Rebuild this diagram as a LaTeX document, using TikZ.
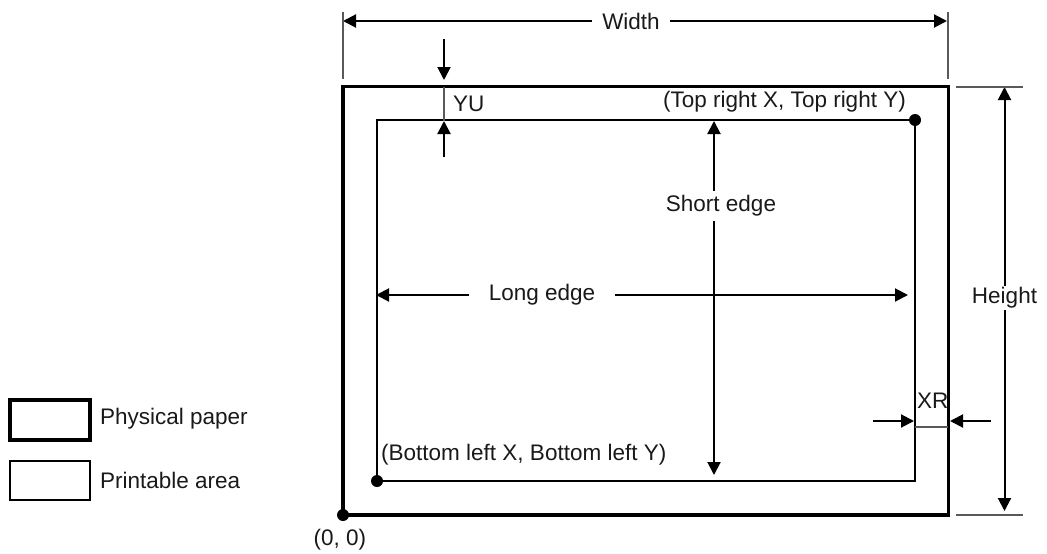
\documentclass[tikz,border=0pt]{standalone}
\usepackage{fontspec}
\setmainfont{Liberation Sans}
\usetikzlibrary{arrows.meta}
\begin{document}
\begin{tikzpicture}[x=1pt,y=-1pt,
  paper/.style={line width=3.3pt},
  printable/.style={line width=1.6pt},
  legthick/.style={line width=4.5pt},
  legthin/.style={line width=2pt},
  dimline/.style={line width=2pt,-{Triangle[length=13pt,width=13pt]}},
  extline/.style={line width=1.2pt,draw=black!65},
  gapline/.style={line width=1.2pt,draw=black!65},
  lbl/.style={font=\fontsize{22.5}{27}\selectfont,text=black!90,inner sep=0pt},
  dot/.style={circle,fill=black,inner sep=0pt,minimum size=12pt}]
\useasboundingbox (0,0) rectangle (1047,554);

% physical paper and printable area
\coordinate (O) at (343,515);
\coordinate (P) at (948.5,86.5);
\draw[paper] (O) rectangle (P);
\coordinate (BL) at (377,481);
\coordinate (TR) at (915,120);
\draw[printable] (BL) rectangle (TR);
\node[dot] (dO) at (O) {};
\node[dot] (dBL) at (BL) {};
\node[dot] (dTR) at (TR) {};

% Width
\coordinate (wL) at (343,21);
\coordinate (wR) at (947,21);
\node[lbl,inner xsep=10pt] (wtxt) at (631,21) {Width};
\draw[dimline] (wtxt) -- (wL);
\draw[dimline] (wtxt) -- (wR);
\coordinate (weL1) at (343,12); \coordinate (weL2) at (343,79);
\coordinate (weR1) at (948,12); \coordinate (weR2) at (948,79);
\draw[extline] (weL1) -- (weL2);
\draw[extline] (weR1) -- (weR2);

% Height
\coordinate (hT) at (1004.5,87);
\coordinate (hB) at (1004.5,511);
\node[lbl,minimum height=24pt] (htxt) at (1004.5,298) {Height};
\draw[dimline] (hT |- htxt.north) -- (hT);
\draw[dimline] (hB |- htxt.south) -- (hB);
\coordinate (heT1) at (956,87); \coordinate (heT2) at (1023,87);
\coordinate (heB1) at (956,515); \coordinate (heB2) at (1023,515);
\draw[extline] (heT1) -- (heT2);
\draw[extline] (heB1) -- (heB2);

% YU
\coordinate (yuA) at (444,39);
\coordinate (yuB) at (444,80);
\coordinate (yuC) at (444,87);
\coordinate (yuD) at (444,121);
\coordinate (yuE) at (444,157);
\draw[dimline] (yuA) -- (yuB);
\draw[gapline] (yuC) -- (yuD);
\draw[dimline] (yuE) -- (yuD);
\node[lbl,anchor=west] (yutxt) at (453,104) {YU};

% XR
\coordinate (xrA) at (873,421);
\coordinate (xrB) at (914,421);
\coordinate (xrC) at (991,421);
\coordinate (xrD) at (950,421);
\coordinate (xrE) at (915,427);
\coordinate (xrF) at (948,427);
\draw[dimline] (xrA) -- (xrB);
\draw[dimline] (xrC) -- (xrD);
\draw[gapline] (xrE) -- (xrF);
\node[lbl,anchor=west] (xrtxt) at (917,401) {XR};

% Short edge
\coordinate (sT) at (714,121);
\coordinate (sB) at (714,475);
\node[lbl,minimum height=30pt] (stxt) at (721,206) {Short edge};
\draw[dimline] (sT |- stxt.north) -- (sT);
\draw[dimline] (sB |- stxt.south) -- (sB);

% Long edge
\coordinate (lL) at (376,295);
\coordinate (lR) at (908,295);
\node[lbl,inner xsep=20pt] (ltxt) at (542,295) {Long edge};
\draw[dimline] (ltxt.west |- lL) -- (lL);
\draw[dimline] (ltxt.east |- lR) -- (lR);

% corner labels
\node[lbl,anchor=east] (trtxt) at (906,102) {(Top right X, Top right Y)};
\node[lbl,anchor=west] (bltxt) at (381,455) {(Bottom left X, Bottom left Y)};
\node[lbl] (otxt) at (340,540) {(0, 0)};

% legend
\coordinate (g1a) at (10,400); \coordinate (g1b) at (90,440);
\coordinate (g2a) at (10,461); \coordinate (g2b) at (90,500);
\draw[legthick] (g1a) rectangle (g1b);
\draw[legthin] (g2a) rectangle (g2b);
\node[lbl,anchor=west] (leg1) at (100,419) {Physical paper};
\node[lbl,anchor=west] (leg2) at (100,480) {Printable area};
\end{tikzpicture}
\end{document}
